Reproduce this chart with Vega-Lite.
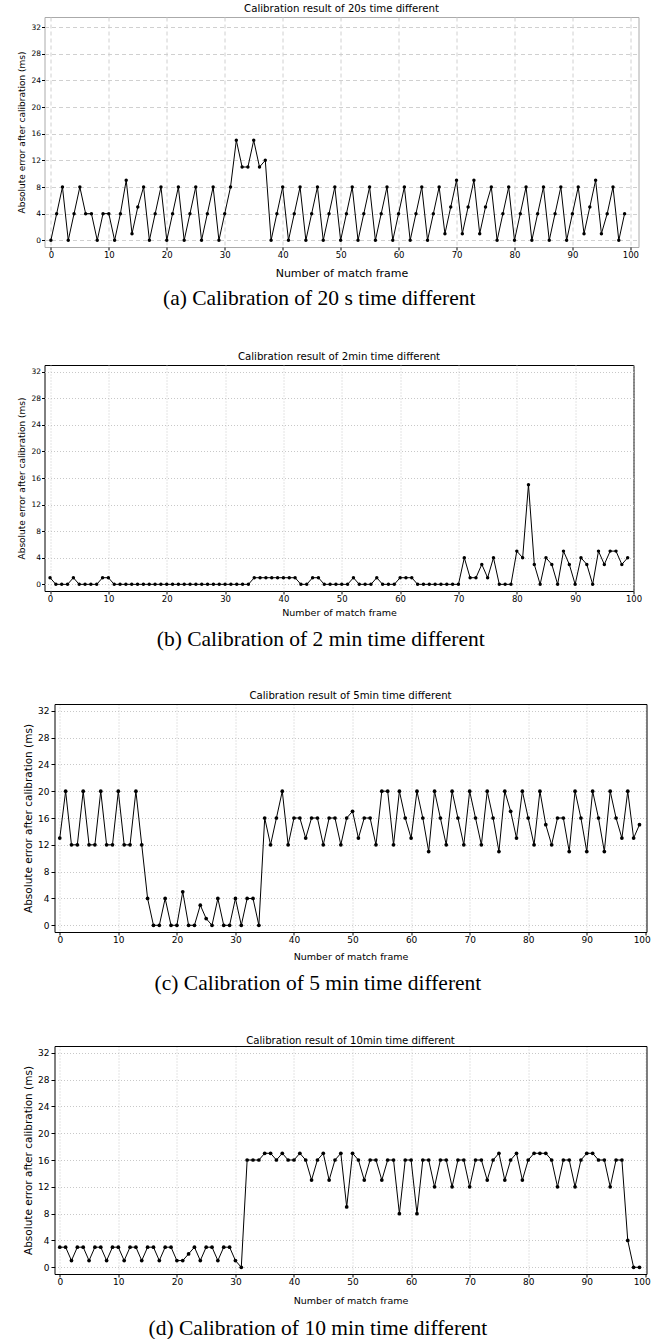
{
"$schema": "https://vega.github.io/schema/vega-lite/v6.json",
"background": "white",
"padding": {"left": 16.5, "top": 3, "right": 0, "bottom": 0},
"config": {"view": {"stroke": "black", "strokeWidth": 1}, "point": {"opacity": 1}},
"datasets": {
"a": [{"x":0,"y":0},{"x":1,"y":4},{"x":2,"y":8},{"x":3,"y":0},{"x":4,"y":4},{"x":5,"y":8},{"x":6,"y":4},{"x":7,"y":4},{"x":8,"y":0},{"x":9,"y":4},{"x":10,"y":4},{"x":11,"y":0},{"x":12,"y":4},{"x":13,"y":9},{"x":14,"y":1},{"x":15,"y":5},{"x":16,"y":8},{"x":17,"y":0},{"x":18,"y":4},{"x":19,"y":8},{"x":20,"y":0},{"x":21,"y":4},{"x":22,"y":8},{"x":23,"y":0},{"x":24,"y":4},{"x":25,"y":8},{"x":26,"y":0},{"x":27,"y":4},{"x":28,"y":8},{"x":29,"y":0},{"x":30,"y":4},{"x":31,"y":8},{"x":32,"y":15},{"x":33,"y":11},{"x":34,"y":11},{"x":35,"y":15},{"x":36,"y":11},{"x":37,"y":12},{"x":38,"y":0},{"x":39,"y":4},{"x":40,"y":8},{"x":41,"y":0},{"x":42,"y":4},{"x":43,"y":8},{"x":44,"y":0},{"x":45,"y":4},{"x":46,"y":8},{"x":47,"y":0},{"x":48,"y":4},{"x":49,"y":8},{"x":50,"y":0},{"x":51,"y":4},{"x":52,"y":8},{"x":53,"y":0},{"x":54,"y":4},{"x":55,"y":8},{"x":56,"y":0},{"x":57,"y":4},{"x":58,"y":8},{"x":59,"y":0},{"x":60,"y":4},{"x":61,"y":8},{"x":62,"y":0},{"x":63,"y":4},{"x":64,"y":8},{"x":65,"y":0},{"x":66,"y":4},{"x":67,"y":8},{"x":68,"y":1},{"x":69,"y":5},{"x":70,"y":9},{"x":71,"y":1},{"x":72,"y":5},{"x":73,"y":9},{"x":74,"y":1},{"x":75,"y":5},{"x":76,"y":8},{"x":77,"y":0},{"x":78,"y":4},{"x":79,"y":8},{"x":80,"y":0},{"x":81,"y":4},{"x":82,"y":8},{"x":83,"y":0},{"x":84,"y":4},{"x":85,"y":8},{"x":86,"y":0},{"x":87,"y":4},{"x":88,"y":8},{"x":89,"y":0},{"x":90,"y":4},{"x":91,"y":8},{"x":92,"y":1},{"x":93,"y":5},{"x":94,"y":9},{"x":95,"y":1},{"x":96,"y":4},{"x":97,"y":8},{"x":98,"y":0},{"x":99,"y":4}],
"b": [{"x":0,"y":1},{"x":1,"y":0},{"x":2,"y":0},{"x":3,"y":0},{"x":4,"y":1},{"x":5,"y":0},{"x":6,"y":0},{"x":7,"y":0},{"x":8,"y":0},{"x":9,"y":1},{"x":10,"y":1},{"x":11,"y":0},{"x":12,"y":0},{"x":13,"y":0},{"x":14,"y":0},{"x":15,"y":0},{"x":16,"y":0},{"x":17,"y":0},{"x":18,"y":0},{"x":19,"y":0},{"x":20,"y":0},{"x":21,"y":0},{"x":22,"y":0},{"x":23,"y":0},{"x":24,"y":0},{"x":25,"y":0},{"x":26,"y":0},{"x":27,"y":0},{"x":28,"y":0},{"x":29,"y":0},{"x":30,"y":0},{"x":31,"y":0},{"x":32,"y":0},{"x":33,"y":0},{"x":34,"y":0},{"x":35,"y":1},{"x":36,"y":1},{"x":37,"y":1},{"x":38,"y":1},{"x":39,"y":1},{"x":40,"y":1},{"x":41,"y":1},{"x":42,"y":1},{"x":43,"y":0},{"x":44,"y":0},{"x":45,"y":1},{"x":46,"y":1},{"x":47,"y":0},{"x":48,"y":0},{"x":49,"y":0},{"x":50,"y":0},{"x":51,"y":0},{"x":52,"y":1},{"x":53,"y":0},{"x":54,"y":0},{"x":55,"y":0},{"x":56,"y":1},{"x":57,"y":0},{"x":58,"y":0},{"x":59,"y":0},{"x":60,"y":1},{"x":61,"y":1},{"x":62,"y":1},{"x":63,"y":0},{"x":64,"y":0},{"x":65,"y":0},{"x":66,"y":0},{"x":67,"y":0},{"x":68,"y":0},{"x":69,"y":0},{"x":70,"y":0},{"x":71,"y":4},{"x":72,"y":1},{"x":73,"y":1},{"x":74,"y":3},{"x":75,"y":1},{"x":76,"y":4},{"x":77,"y":0},{"x":78,"y":0},{"x":79,"y":0},{"x":80,"y":5},{"x":81,"y":4},{"x":82,"y":15},{"x":83,"y":3},{"x":84,"y":0},{"x":85,"y":4},{"x":86,"y":3},{"x":87,"y":0},{"x":88,"y":5},{"x":89,"y":3},{"x":90,"y":0},{"x":91,"y":4},{"x":92,"y":3},{"x":93,"y":0},{"x":94,"y":5},{"x":95,"y":3},{"x":96,"y":5},{"x":97,"y":5},{"x":98,"y":3},{"x":99,"y":4}],
"c": [{"x":0,"y":13},{"x":1,"y":20},{"x":2,"y":12},{"x":3,"y":12},{"x":4,"y":20},{"x":5,"y":12},{"x":6,"y":12},{"x":7,"y":20},{"x":8,"y":12},{"x":9,"y":12},{"x":10,"y":20},{"x":11,"y":12},{"x":12,"y":12},{"x":13,"y":20},{"x":14,"y":12},{"x":15,"y":4},{"x":16,"y":0},{"x":17,"y":0},{"x":18,"y":4},{"x":19,"y":0},{"x":20,"y":0},{"x":21,"y":5},{"x":22,"y":0},{"x":23,"y":0},{"x":24,"y":3},{"x":25,"y":1},{"x":26,"y":0},{"x":27,"y":4},{"x":28,"y":0},{"x":29,"y":0},{"x":30,"y":4},{"x":31,"y":0},{"x":32,"y":4},{"x":33,"y":4},{"x":34,"y":0},{"x":35,"y":16},{"x":36,"y":12},{"x":37,"y":16},{"x":38,"y":20},{"x":39,"y":12},{"x":40,"y":16},{"x":41,"y":16},{"x":42,"y":13},{"x":43,"y":16},{"x":44,"y":16},{"x":45,"y":12},{"x":46,"y":16},{"x":47,"y":16},{"x":48,"y":12},{"x":49,"y":16},{"x":50,"y":17},{"x":51,"y":13},{"x":52,"y":16},{"x":53,"y":16},{"x":54,"y":12},{"x":55,"y":20},{"x":56,"y":20},{"x":57,"y":12},{"x":58,"y":20},{"x":59,"y":16},{"x":60,"y":13},{"x":61,"y":20},{"x":62,"y":16},{"x":63,"y":11},{"x":64,"y":20},{"x":65,"y":16},{"x":66,"y":12},{"x":67,"y":20},{"x":68,"y":16},{"x":69,"y":12},{"x":70,"y":20},{"x":71,"y":16},{"x":72,"y":12},{"x":73,"y":20},{"x":74,"y":16},{"x":75,"y":11},{"x":76,"y":20},{"x":77,"y":17},{"x":78,"y":13},{"x":79,"y":20},{"x":80,"y":16},{"x":81,"y":12},{"x":82,"y":20},{"x":83,"y":15},{"x":84,"y":12},{"x":85,"y":16},{"x":86,"y":16},{"x":87,"y":11},{"x":88,"y":20},{"x":89,"y":16},{"x":90,"y":11},{"x":91,"y":20},{"x":92,"y":16},{"x":93,"y":11},{"x":94,"y":20},{"x":95,"y":16},{"x":96,"y":13},{"x":97,"y":20},{"x":98,"y":13},{"x":99,"y":15}],
"d": [{"x":0,"y":3},{"x":1,"y":3},{"x":2,"y":1},{"x":3,"y":3},{"x":4,"y":3},{"x":5,"y":1},{"x":6,"y":3},{"x":7,"y":3},{"x":8,"y":1},{"x":9,"y":3},{"x":10,"y":3},{"x":11,"y":1},{"x":12,"y":3},{"x":13,"y":3},{"x":14,"y":1},{"x":15,"y":3},{"x":16,"y":3},{"x":17,"y":1},{"x":18,"y":3},{"x":19,"y":3},{"x":20,"y":1},{"x":21,"y":1},{"x":22,"y":2},{"x":23,"y":3},{"x":24,"y":1},{"x":25,"y":3},{"x":26,"y":3},{"x":27,"y":1},{"x":28,"y":3},{"x":29,"y":3},{"x":30,"y":1},{"x":31,"y":0},{"x":32,"y":16},{"x":33,"y":16},{"x":34,"y":16},{"x":35,"y":17},{"x":36,"y":17},{"x":37,"y":16},{"x":38,"y":17},{"x":39,"y":16},{"x":40,"y":16},{"x":41,"y":17},{"x":42,"y":16},{"x":43,"y":13},{"x":44,"y":16},{"x":45,"y":17},{"x":46,"y":13},{"x":47,"y":16},{"x":48,"y":17},{"x":49,"y":9},{"x":50,"y":17},{"x":51,"y":16},{"x":52,"y":13},{"x":53,"y":16},{"x":54,"y":16},{"x":55,"y":13},{"x":56,"y":16},{"x":57,"y":16},{"x":58,"y":8},{"x":59,"y":16},{"x":60,"y":16},{"x":61,"y":8},{"x":62,"y":16},{"x":63,"y":16},{"x":64,"y":12},{"x":65,"y":16},{"x":66,"y":16},{"x":67,"y":12},{"x":68,"y":16},{"x":69,"y":16},{"x":70,"y":12},{"x":71,"y":16},{"x":72,"y":16},{"x":73,"y":13},{"x":74,"y":16},{"x":75,"y":17},{"x":76,"y":13},{"x":77,"y":16},{"x":78,"y":17},{"x":79,"y":13},{"x":80,"y":16},{"x":81,"y":17},{"x":82,"y":17},{"x":83,"y":17},{"x":84,"y":16},{"x":85,"y":12},{"x":86,"y":16},{"x":87,"y":16},{"x":88,"y":12},{"x":89,"y":16},{"x":90,"y":17},{"x":91,"y":17},{"x":92,"y":16},{"x":93,"y":16},{"x":94,"y":12},{"x":95,"y":16},{"x":96,"y":16},{"x":97,"y":4},{"x":98,"y":0},{"x":99,"y":0}]
},
"columns": 1,
"align": "none",
"spacing": 41,
"concat": [
{
"title": {"text": "(a) Calibration of 20 s time different", "orient": "bottom", "anchor": "middle", "frame": "bounds", "font": "Liberation Serif", "fontSize": 21.5, "fontWeight": "normal", "color": "black", "offset": 9, "dx": -9},
"vconcat": [{
"title": {"text": "Calibration result of 20s time different", "font": "DejaVu Sans", "fontSize": 10.2, "fontWeight": "normal", "color": "black", "offset": 2.5, "anchor": "middle", "frame": "group"},
"width": 594, "height": 230,
"view": {"stroke": "#aaaaaa"},
"data": {"name": "a"},
"encoding": {
"x": {"field": "x", "type": "quantitative", "scale": {"domain": [-1.1, 101.4], "nice": false, "zero": false},
"axis": {"values": [0,10,20,30,40,50,60,70,80,90,100], "grid": true, "gridColor": "#d0d0d0", "gridDash": [4,3], "domain": false, "tickColor": "black", "tickSize": 3, "labelFont": "DejaVu Sans", "labelFontSize": 8.5, "labelColor": "black", "labelPadding": 0, "labelFlush": false, "labelOverlap": false, "title": "Number of match frame", "titleFont": "DejaVu Sans", "titleFontSize": 11, "titleFontWeight": "normal", "titleColor": "black", "titlePadding": 9}},
"y": {"field": "y", "type": "quantitative", "scale": {"domain": [-1, 33.5], "nice": false, "zero": false},
"axis": {"values": [0,4,8,12,16,20,24,28,32], "grid": true, "gridColor": "#d0d0d0", "gridDash": [4,3], "domain": false, "tickColor": "black", "tickSize": 3, "labelFont": "DejaVu Sans", "labelFontSize": 7.5, "labelColor": "black", "labelPadding": 1, "labelFlush": false, "labelOverlap": false, "title": "Absolute error after calibration (ms)", "titleFont": "DejaVu Sans", "titleFontSize": 9, "titleFontWeight": "normal", "titleColor": "black", "titlePadding": 4}}
},
"layer": [
{"mark": {"type": "line", "color": "black", "strokeWidth": 1}},
{"mark": {"type": "point", "filled": true, "color": "black", "size": 12, "opacity": 1}}
]
}]
},
{
"title": {"text": "(b) Calibration of 2 min time different", "orient": "bottom", "anchor": "middle", "frame": "bounds", "font": "Liberation Serif", "fontSize": 21.5, "fontWeight": "normal", "color": "black", "offset": 11, "dx": -9},
"vconcat": [{
"title": {"text": "Calibration result of 2min time different", "font": "DejaVu Sans", "fontSize": 10.2, "fontWeight": "normal", "color": "black", "offset": 2.5, "anchor": "middle", "frame": "group"},
"width": 589, "height": 226,
"data": {"name": "b"},
"encoding": {
"x": {"field": "x", "type": "quantitative", "scale": {"domain": [-0.95, 100], "nice": false, "zero": false},
"axis": {"values": [0,10,20,30,40,50,60,70,80,90,100], "grid": true, "gridColor": "#c8c8c8", "gridDash": [1,2], "domain": false, "tickColor": "black", "tickSize": 3, "labelFont": "DejaVu Sans", "labelFontSize": 8.5, "labelColor": "black", "labelPadding": 0, "labelFlush": false, "labelOverlap": false, "title": "Number of match frame", "titleFont": "DejaVu Sans", "titleFontSize": 9.5, "titleFontWeight": "normal", "titleColor": "black", "titlePadding": 5}},
"y": {"field": "y", "type": "quantitative", "scale": {"domain": [-1, 33], "nice": false, "zero": false},
"axis": {"values": [0,4,8,12,16,20,24,28,32], "grid": true, "gridColor": "#c8c8c8", "gridDash": [1,2], "domain": false, "tickColor": "black", "tickSize": 3, "labelFont": "DejaVu Sans", "labelFontSize": 7.5, "labelColor": "black", "labelPadding": 1, "labelFlush": false, "labelOverlap": false, "title": "Absolute error after calibration (ms)", "titleFont": "DejaVu Sans", "titleFontSize": 9, "titleFontWeight": "normal", "titleColor": "black", "titlePadding": 4}}
},
"layer": [
{"mark": {"type": "line", "color": "black", "strokeWidth": 1}},
{"mark": {"type": "point", "filled": true, "color": "black", "size": 12, "opacity": 1}}
]
}]
},
{
"title": {"text": "(c) Calibration of 5 min time different", "orient": "bottom", "anchor": "middle", "frame": "bounds", "font": "Liberation Serif", "fontSize": 21.5, "fontWeight": "normal", "color": "black", "offset": 12, "dx": -19},
"vconcat": [{
"title": {"text": "Calibration result of 5min time different", "font": "DejaVu Sans", "fontSize": 10.2, "fontWeight": "normal", "color": "black", "offset": 2.5, "anchor": "middle", "frame": "group", "dx": 5},
"width": 602, "height": 228,
"view": {"stroke": null},
"data": {"name": "c"},
"resolve": {"axis": {"x": "independent", "y": "independent"}},
"layer": [
{"mark": {"type": "line", "color": "black", "strokeWidth": 1},
"encoding": {
"x": {"field": "x", "type": "quantitative", "scale": {"domain": [-0.9, 100.2], "range": [10, 602], "nice": false, "zero": false},
"axis": {"values": [0,10,20,30,40,50,60,70,80,90,100], "grid": true, "gridColor": "#c8c8c8", "gridDash": [1,2], "domain": true, "domainColor": "black", "domainWidth": 1, "tickColor": "black", "tickSize": 3, "labelFont": "DejaVu Sans", "labelFontSize": 9, "labelColor": "black", "labelPadding": 0, "labelFlush": 2, "labelFlushOffset": 5, "labelOverlap": false, "title": "Number of match frame", "titleFont": "DejaVu Sans", "titleFontSize": 9.5, "titleFontWeight": "normal", "titleColor": "black", "titlePadding": 7}},
"y": {"field": "y", "type": "quantitative", "scale": {"domain": [-1, 33], "nice": false, "zero": false},
"axis": {"values": [0,4,8,12,16,20,24,28,32], "offset": -10, "grid": true, "gridColor": "#c8c8c8", "gridDash": [1,2], "domain": true, "domainColor": "black", "domainWidth": 1, "tickColor": "black", "tickSize": 3.5, "labelFont": "DejaVu Sans", "labelFontSize": 9, "labelColor": "black", "labelPadding": 2, "labelFlush": false, "labelOverlap": false, "title": "Absolute error after calibration (ms)", "titleFont": "DejaVu Sans", "titleFontSize": 10.5, "titleFontWeight": "normal", "titleColor": "black", "titlePadding": 4}}
}},
{"mark": {"type": "point", "filled": true, "color": "black", "size": 14, "opacity": 1},
"encoding": {
"x": {"field": "x", "type": "quantitative", "scale": {"domain": [-0.9, 100.2], "range": [10, 602], "nice": false, "zero": false},
"axis": {"orient": "top", "labels": false, "ticks": false, "grid": false, "domain": true, "domainColor": "black", "domainWidth": 1, "title": null}},
"y": {"field": "y", "type": "quantitative", "scale": {"domain": [-1, 33], "nice": false, "zero": false},
"axis": {"orient": "right", "labels": false, "ticks": false, "grid": false, "domain": true, "domainColor": "black", "domainWidth": 1, "title": null}}
}}
]
}]
},
{
"title": {"text": "(d) Calibration of 10 min time different", "orient": "bottom", "anchor": "middle", "frame": "bounds", "font": "Liberation Serif", "fontSize": 21.5, "fontWeight": "normal", "color": "black", "offset": 13, "dx": -19},
"vconcat": [{
"title": {"text": "Calibration result of 10min time different", "font": "DejaVu Sans", "fontSize": 10.2, "fontWeight": "normal", "color": "black", "offset": 0, "anchor": "middle", "frame": "group", "dx": 5},
"width": 602, "height": 228,
"view": {"stroke": null},
"data": {"name": "d"},
"resolve": {"axis": {"x": "independent", "y": "independent"}},
"layer": [
{"mark": {"type": "line", "color": "black", "strokeWidth": 1},
"encoding": {
"x": {"field": "x", "type": "quantitative", "scale": {"domain": [-0.9, 100.2], "range": [10, 602], "nice": false, "zero": false},
"axis": {"values": [0,10,20,30,40,50,60,70,80,90,100], "grid": true, "gridColor": "#c8c8c8", "gridDash": [1,2], "domain": true, "domainColor": "black", "domainWidth": 1, "tickColor": "black", "tickSize": 3, "labelFont": "DejaVu Sans", "labelFontSize": 9, "labelColor": "black", "labelPadding": 0, "labelFlush": 2, "labelFlushOffset": 5, "labelOverlap": false, "title": "Number of match frame", "titleFont": "DejaVu Sans", "titleFontSize": 9.5, "titleFontWeight": "normal", "titleColor": "black", "titlePadding": 9}},
"y": {"field": "y", "type": "quantitative", "scale": {"domain": [-1, 33], "nice": false, "zero": false},
"axis": {"values": [0,4,8,12,16,20,24,28,32], "offset": -10, "grid": true, "gridColor": "#c8c8c8", "gridDash": [1,2], "domain": true, "domainColor": "black", "domainWidth": 1, "tickColor": "black", "tickSize": 3.5, "labelFont": "DejaVu Sans", "labelFontSize": 9, "labelColor": "black", "labelPadding": 2, "labelFlush": false, "labelOverlap": false, "title": "Absolute error after calibration (ms)", "titleFont": "DejaVu Sans", "titleFontSize": 10.5, "titleFontWeight": "normal", "titleColor": "black", "titlePadding": 4}}
}},
{"mark": {"type": "point", "filled": true, "color": "black", "size": 14, "opacity": 1},
"encoding": {
"x": {"field": "x", "type": "quantitative", "scale": {"domain": [-0.9, 100.2], "range": [10, 602], "nice": false, "zero": false},
"axis": {"orient": "top", "labels": false, "ticks": false, "grid": false, "domain": true, "domainColor": "black", "domainWidth": 1, "title": null}},
"y": {"field": "y", "type": "quantitative", "scale": {"domain": [-1, 33], "nice": false, "zero": false},
"axis": {"orient": "right", "labels": false, "ticks": false, "grid": false, "domain": true, "domainColor": "black", "domainWidth": 1, "title": null}}
}}
]
}]
}
]
}
